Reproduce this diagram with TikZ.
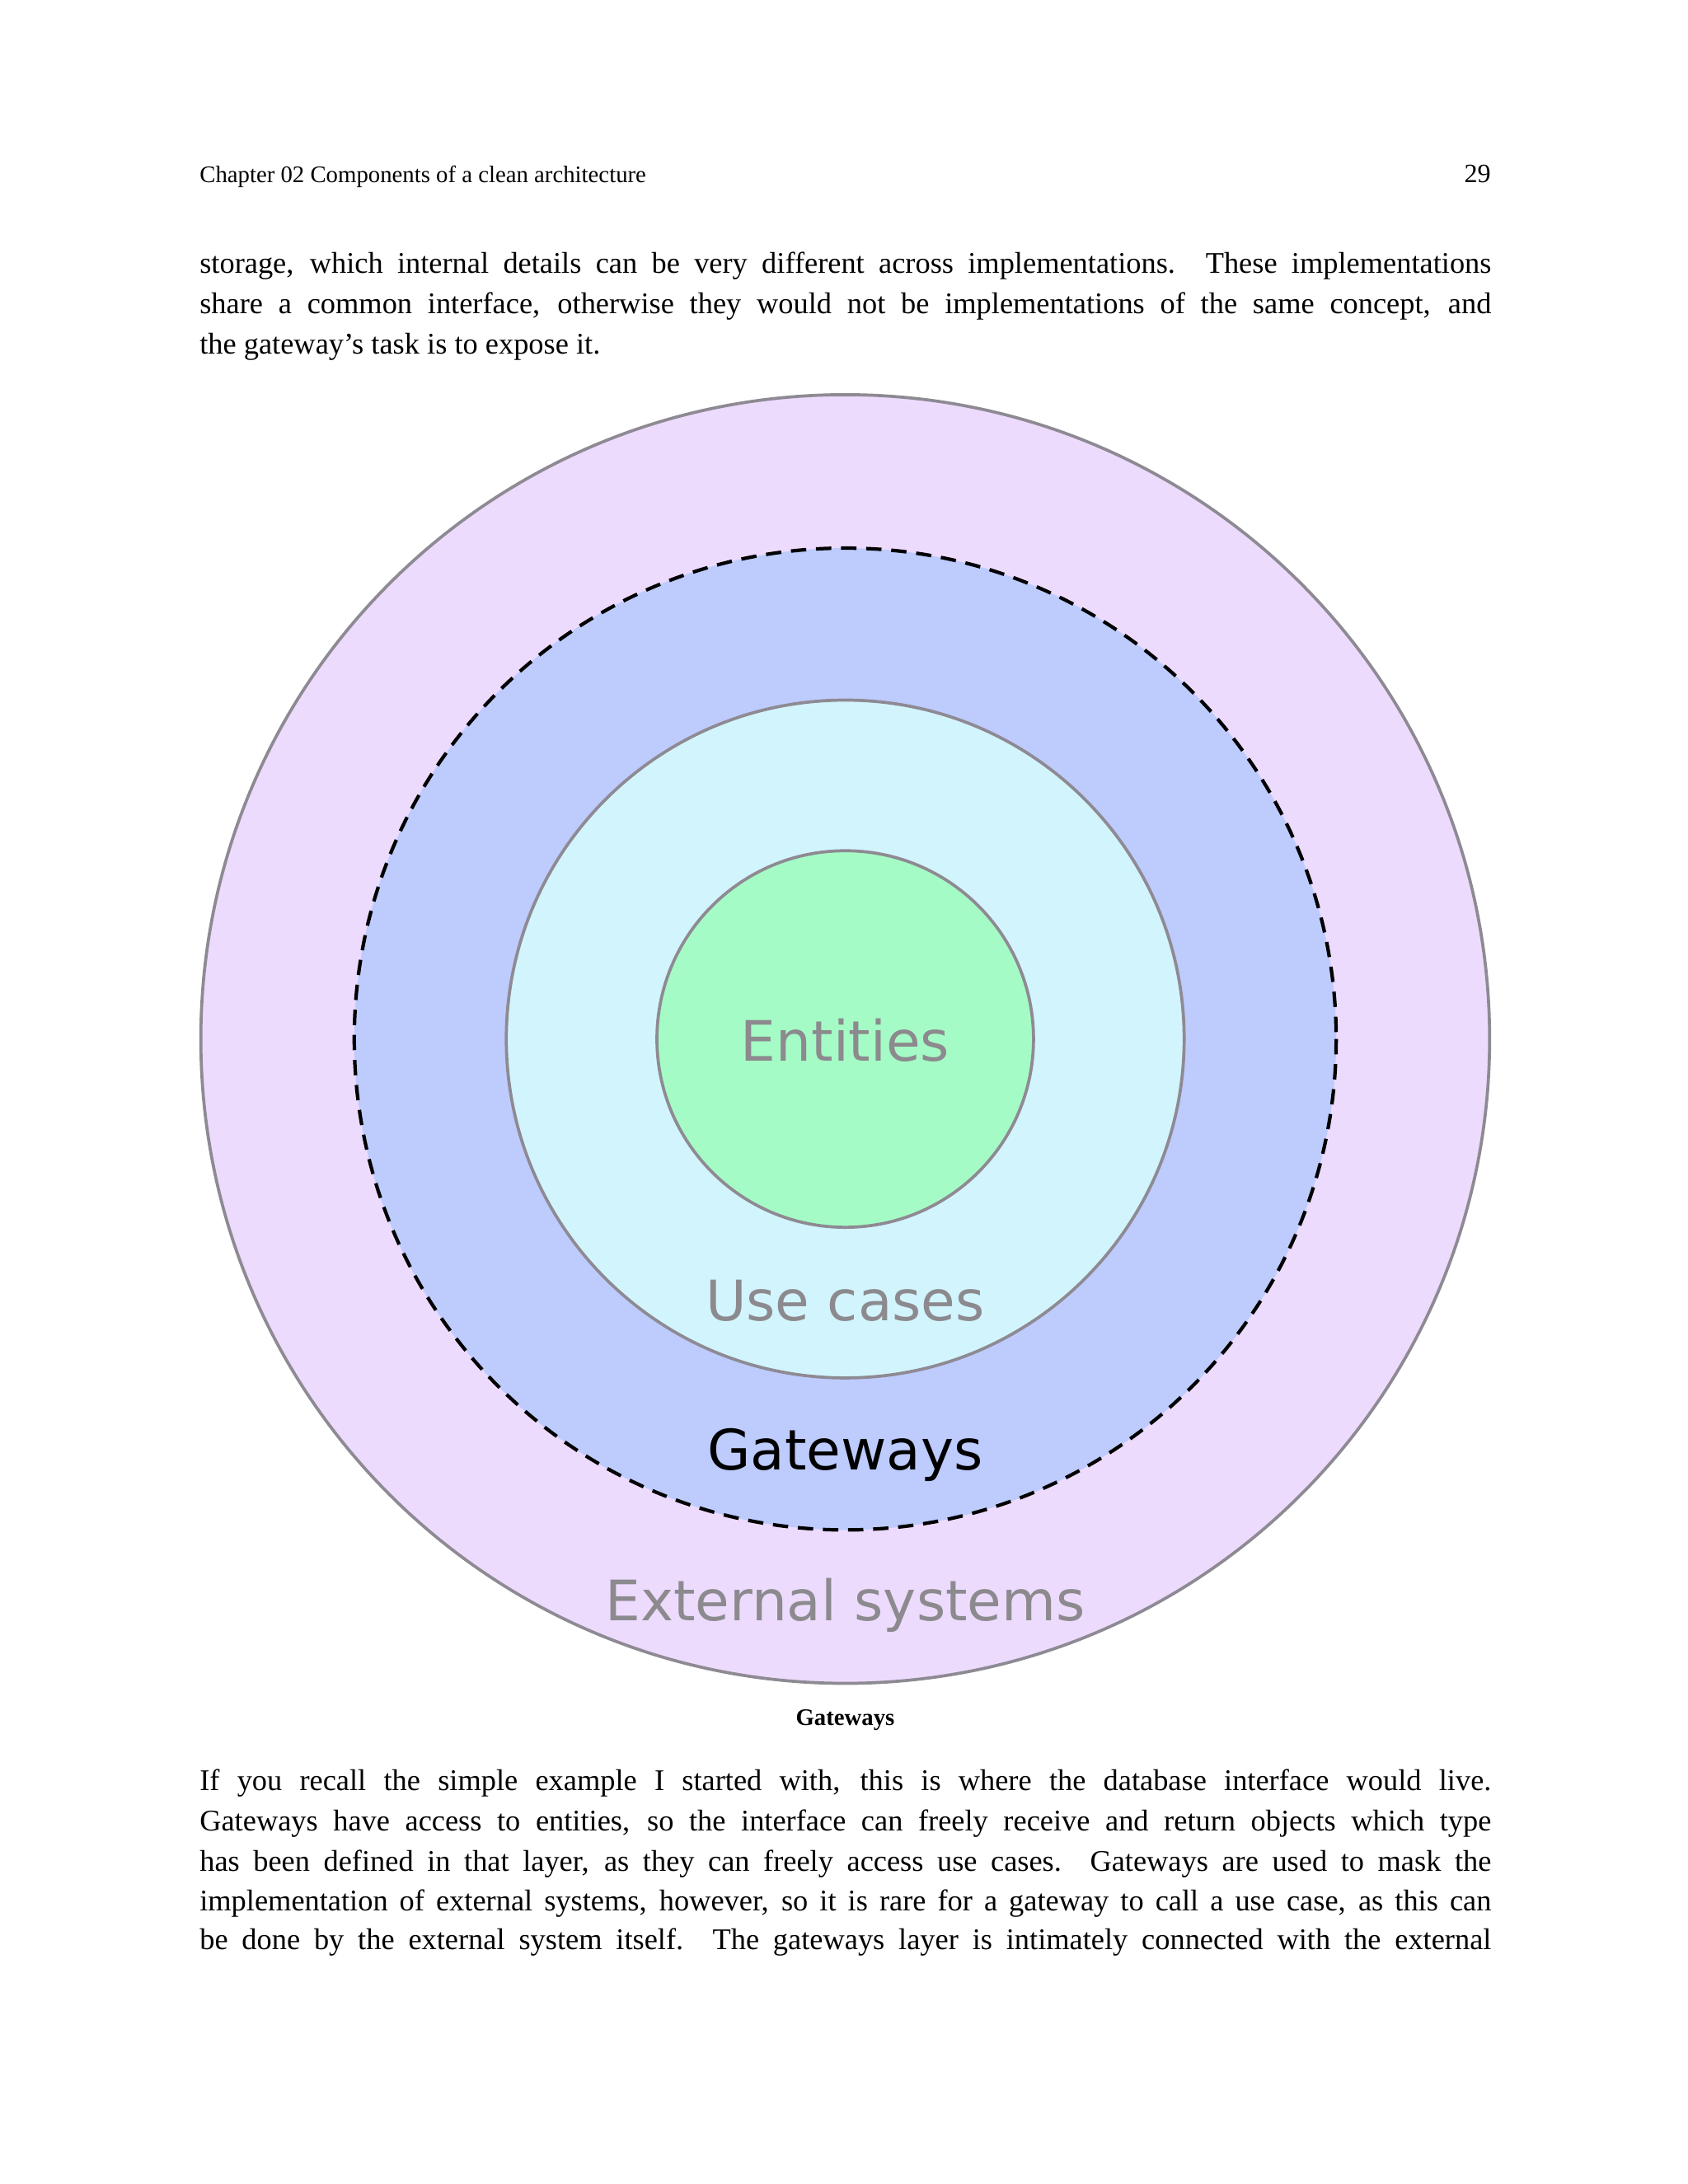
\documentclass[tikz,border=0pt]{standalone}
\usepackage{fontspec}
\setmainfont{Liberation Serif}
\newfontfamily\lbl{DejaVu Sans}
\begin{document}
\begin{tikzpicture}[x=1pt,y=-1pt,
  ring/.style={draw=ringgray,line width=2.2pt},
  lab/.style={font=\lbl\fontsize{40}{44}\selectfont,text=labgray,anchor=base},
  body/.style={font=\fontsize{21.5}{29}\selectfont,anchor=base west,inner sep=0}]
\definecolor{ringgray}{HTML}{8E8A93}
\definecolor{labgray}{HTML}{8C8A8E}
\definecolor{cOut}{HTML}{EDDBFE}
\definecolor{cGw}{HTML}{BDCBFD}
\definecolor{cUc}{HTML}{D2F4FD}
\definecolor{cEn}{HTML}{A5FBC5}
\useasboundingbox (0,0) rectangle (1210,1566);
\fill[white] (0,0) rectangle (1210,1566);
\node[body,font=\fontsize{17}{20}\selectfont] (hd) at (143,131) {Chapter 02 Components of a clean architecture};
\node[body,font=\fontsize{19}{20}\selectfont,anchor=base east] (pg) at (1069,131) {29};
\node[body] (l1) at (143,196) {\makebox[926pt][s]{storage, which internal details can be very different across implementations. These implementations}};
\node[body] (l2) at (143,225) {\makebox[926pt][s]{share a common interface, otherwise they would not be implementations of the same concept, and}};
\node[body] (l3) at (143,254) {the gateway’s task is to expose it.};
\coordinate (c) at (606,745);
\draw[ring,fill=cOut] (c) circle (462);
\fill[cGw] (c) circle (352);
\draw[line width=2.5pt,dash pattern=on 11pt off 7pt] (c) circle (352);
\draw[ring,fill=cUc] (c) circle (243);
\draw[ring,fill=cEn] (c) circle (135);
\node[lab] (en) at (606,761) {Entities};
\node[lab] (uc) at (606,947) {Use cases};
\node[lab,text=black] (gw) at (606,1054) {Gateways};
\node[lab] (ex) at (606,1162) {External systems};
\node[body,anchor=base,font=\bfseries\fontsize{17}{20}\selectfont] (cap) at (606,1237) {Gateways};
\node[body] (p1) at (143,1284) {\makebox[926pt][s]{If you recall the simple example I started with, this is where the database interface would live.}};
\node[body] (p2) at (143,1313) {\makebox[926pt][s]{Gateways have access to entities, so the interface can freely receive and return objects which type}};
\node[body] (p3) at (143,1342) {\makebox[926pt][s]{has been defined in that layer, as they can freely access use cases. Gateways are used to mask the}};
\node[body] (p4) at (143,1370) {\makebox[926pt][s]{implementation of external systems, however, so it is rare for a gateway to call a use case, as this can}};
\node[body] (p5) at (143,1398) {\makebox[926pt][s]{be done by the external system itself. The gateways layer is intimately connected with the external}};
\end{tikzpicture}
\end{document}
